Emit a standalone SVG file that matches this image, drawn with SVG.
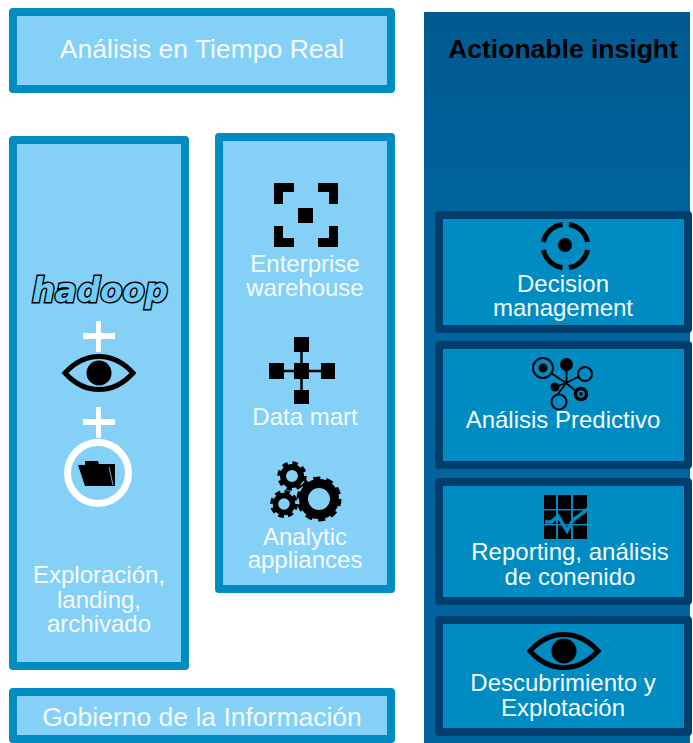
<svg xmlns="http://www.w3.org/2000/svg" width="693" height="743" viewBox="0 0 693 743">
<style>
text{font-family:"Liberation Sans",Arial,sans-serif;font-size:24px;fill:#f4fbff;text-anchor:middle}
.title{font-size:26.500px}
.light{fill:#84d0f7;stroke:#008bc2;stroke-width:8;stroke-linejoin:round}
.card{fill:#008bc2;stroke:#003e6e;stroke-width:8;stroke-linejoin:round}
.k{fill:#000}
.ln{fill:none;stroke:#000}
.plus{fill:#fff}
</style>
<defs>
<linearGradient id="panel" x1="0" y1="0" x2="0" y2="1"><stop offset="0" stop-color="#005a90"/><stop offset="0.25" stop-color="#00639c"/><stop offset="1" stop-color="#00659f"/></linearGradient>
<g id="eye"><path class="ln" stroke-width="5" d="M-34 0C-24-11-13-16.500 0-16.500S24-11 34 0C24 11 13 16.500 0 16.500S-24 11-34 0Z"/><circle class="k" r="12.500"/></g>
</defs>
<g id="realtime"><rect class="light" x="13" y="12" width="378" height="77"/><text class="title" x="202" y="58">Análisis en Tiempo Real</text></g>
<g id="exploration">
<rect class="light" x="13" y="140" width="172" height="526"/>
<text x="100" y="302" style="font-family:'DejaVu Sans',sans-serif;font-weight:bold;font-style:italic;font-size:34px;fill:#6ccdfb;stroke:#000;stroke-width:3;paint-order:stroke" textLength="136" lengthAdjust="spacingAndGlyphs">hadoop</text>
<path class="plus" d="M96 321h5v12h14v6h-14v13h-5v-13H83v-6h13Z"/>
<use href="#eye" x="99" y="373"/>
<path class="plus" d="M96 407h5v12h14v6h-14v13h-5v-13H83v-6h13Z"/>
<circle cx="98" cy="473" r="30.500" fill="none" stroke="#fff" stroke-width="7"/>
<path class="k" d="M78 465H85V461H98L99 464H115V486H85Z"/>
<path d="M109 467L113 485" fill="none" stroke="#84d0f7" stroke-width="0.800"/>
<text x="99" y="583">Exploración,</text><text x="99" y="608">landing,</text><text x="99" y="632">archivado</text>
</g>
<g id="warehouses">
<rect class="light" x="219" y="137" width="172" height="452"/>
<path class="k" d="M274 183h20v9h-11v12h-9ZM318 183h20v21h-9v-12h-11ZM274 226h9v12h11v9h-20ZM329 226h9v21h-20v-9h11ZM298 208h15v15h-15Z"/>
<text x="305" y="272">Enterprise</text><text x="305" y="296">warehouse</text>
<path class="ln" stroke-width="2.500" d="M301.500 345V397M276 371H328"/>
<path class="k" d="M294 337h15v15h-15ZM294 363h15v16h-15ZM269 363h15v16h-15ZM321 363h14v16h-14ZM294 390h15v14h-15Z"/>
<text x="305" y="425">Data mart</text>
<g class="ln">
<circle cx="319" cy="499" r="15.500" stroke-width="9"/><circle cx="319" cy="499" r="20.500" stroke-width="4" stroke-dasharray="7 5.900"/>
<circle cx="292" cy="476" r="9" stroke-width="6"/><circle cx="292" cy="476" r="13" stroke-width="3.500" stroke-dasharray="5.500 4.700"/>
<circle cx="284" cy="504" r="8.500" stroke-width="5.500"/><circle cx="284" cy="504" r="12.200" stroke-width="3.500" stroke-dasharray="5.500 4.100"/>
</g>
<text x="305" y="545">Analytic</text><text x="305" y="568">appliances</text>
</g>
<g id="governance"><rect class="light" x="13" y="692" width="378" height="47"/><text class="title" x="202" y="726">Gobierno de la Información</text></g>
<g id="insight-panel"><rect x="424" y="12" width="266" height="731" fill="url(#panel)"/><text class="title" x="563" y="58" style="font-weight:bold;fill:#000">Actionable insight</text></g>
<g id="decision">
<rect class="card" x="439" y="215" width="249" height="114"/>
<path class="ln" stroke-width="5" d="M543.500 242A22 22 0 0 1 562.500 224.500M569 224.500A22 22 0 0 1 587.500 242M587.500 250A22 22 0 0 1 569 267.500M562.500 267.500A22 22 0 0 1 543.500 250"/>
<circle class="k" cx="565" cy="245" r="7"/>
<text x="563" y="292">Decision</text><text x="563" y="316">management</text>
</g>
<g id="predictive">
<rect class="card" x="439" y="345" width="249" height="120"/>
<path class="ln" stroke-width="1.800" d="M551 373L566 383M566.500 370V383M578 377L566 383M555 387L566 383M576 391L566 383M558 394L566 383"/>
<circle class="ln" cx="543" cy="368" r="10" stroke-width="2"/><circle class="k" cx="543" cy="368" r="4.500"/>
<circle class="k" cx="566.500" cy="364.500" r="6.500"/>
<circle class="ln" cx="585" cy="374" r="7" stroke-width="2"/>
<circle class="k" cx="555" cy="387" r="4.500"/>
<circle class="ln" cx="581" cy="394" r="5.500" stroke-width="3.500"/><circle class="k" cx="581" cy="394" r="2"/>
<circle class="ln" cx="559" cy="402" r="7.500" stroke-width="2"/>
<text x="563" y="428">Análisis Predictivo</text>
</g>
<g id="reporting">
<rect class="card" x="439" y="482" width="249" height="119"/>
<path class="k" d="M544 495h12v14h-12ZM558 495h13v14h-13ZM573 495h14v14h-14ZM544 510.500h12v13.500h-12ZM558 510.500h13v13.500h-13ZM573 510.500h14v13.500h-14ZM544 525.500h12v13.500h-12ZM558 525.500h13v13.500h-13ZM573 525.500h14v13.500h-14Z"/>
<path fill="none" stroke="#008bc2" stroke-width="3.500" d="M545 522L551 522L558 516L567 531L573 520L588 509"/>
<text x="570" y="560">Reporting, análisis</text><text x="570" y="585">de conenido</text>
</g>
<g id="discovery">
<rect class="card" x="439" y="620" width="249" height="112"/>
<use href="#eye" x="564" y="651"/>
<text x="563" y="691">Descubrimiento y</text><text x="563" y="716">Explotación</text>
</g>
</svg>
